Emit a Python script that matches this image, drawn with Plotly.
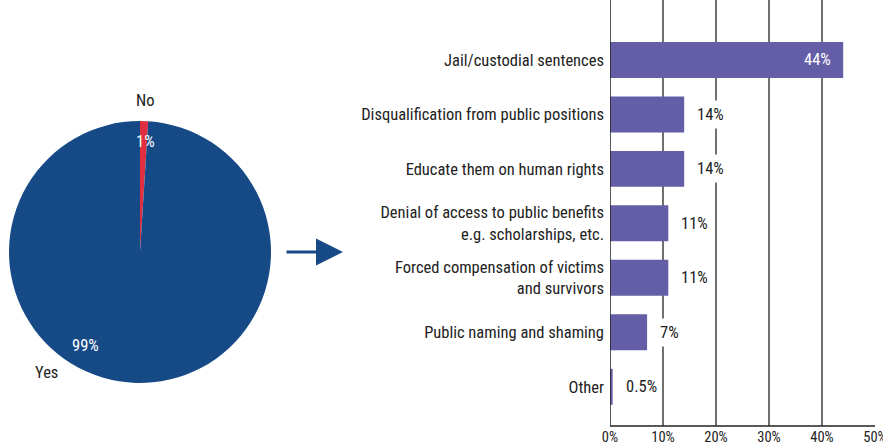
import plotly.graph_objects as go

# Pie: whether perpetrators should be punished
pie_labels = ["No", "Yes"]
pie_values = [1, 99]
pie_colors = ["#e0303f", "#154a86"]

# Bar: preferred type of punishment (% of respondents)
categories = [
    "Jail/custodial sentences",
    "Disqualification from public positions",
    "Educate them on human rights",
    "Denial of access to public benefits<br>e.g. scholarships, etc.",
    "Forced compensation of victims<br>and survivors",
    "Public naming and shaming",
    "Other",
]
shares = [44, 14, 14, 11, 11, 7, 0.5]
share_text = ["44%", "14%", "14%", "11%", "11%", "7%", "0.5%"]
x_ticks = [0, 10, 20, 30, 40, 50]
x_tick_text = ["0%", "10%", "20%", "30%", "40%", "50%"]

FONT = "Roboto Condensed, Liberation Sans Narrow, Roboto, sans-serif"
TXT = "#222222"
BAR = "#635ea6"
W, H = 883, 445

fig = go.Figure()

fig.add_trace(go.Pie(
    labels=pie_labels, values=pie_values, sort=False, direction="clockwise",
    rotation=0, marker=dict(colors=pie_colors, line=dict(width=0)),
    textinfo="none", hoverinfo="label+percent", showlegend=False,
    domain=dict(x=[9 / W, 271 / W], y=[1 - 383 / H, 1 - 121 / H]),
))

ypos = list(range(len(categories)))
fig.add_trace(go.Bar(
    x=shares, y=ypos, orientation="h", marker=dict(color=BAR, line=dict(width=0)),
    width=0.66, showlegend=False, hoverinfo="x+y",
))


def label(x, y, text, color=TXT, size=16.5, **kw):
    return dict(x=x, y=y, text=text, showarrow=False, xanchor=kw.pop("xanchor", "center"),
                yanchor="middle", font=dict(family=FONT, size=size, color=color), **kw)


annotations = []
# value labels on the bars
for i, (v, t) in enumerate(zip(shares, share_text)):
    if v > 30:
        annotations.append(label(v, i, t, color="white", xref="x", yref="y",
                                 xanchor="right", xshift=-10))
    else:
        annotations.append(label(v, i, t, xref="x", yref="y", xanchor="left", xshift=8,
                                 bgcolor="white", borderpad=4))

# pie labels
annotations += [
    label(145 / W, 1 - 101 / H, "No", xref="paper", yref="paper"),
    label(46 / W, 1 - 372 / H, "Yes", xref="paper", yref="paper"),
    label(145 / W, 1 - 141 / H, f"{pie_values[0]}%", color="white", xref="paper", yref="paper"),
    label(85 / W, 1 - 345 / H, f"{pie_values[1]}%", color="white", xref="paper", yref="paper"),
    # arrow linking the pie to the breakdown
    dict(x=343 / W, y=1 - 252 / H, ax=-58, ay=0, xref="paper", yref="paper",
         axref="pixel", ayref="pixel", text="", showarrow=True, arrowhead=2,
         arrowsize=1.8, arrowwidth=3, arrowcolor="#154a86", standoff=0, startstandoff=0),
]

fig.update_layout(
    width=W, height=H, margin=dict(l=0, r=0, t=0, b=0, autoexpand=False),
    paper_bgcolor="white", plot_bgcolor="white",
    font=dict(family=FONT, size=16.5, color=TXT),
    bargap=0.34,
    xaxis=dict(domain=[610 / W, 875 / W], range=[0, 50], tickvals=x_ticks,
               ticktext=x_tick_text, showgrid=True, gridcolor="#707070", gridwidth=1.5,
               zeroline=False, showline=False, ticks="", tickfont=dict(size=14.5),
               ticklabeloverflow="allow", automargin=False, fixedrange=True),
    yaxis=dict(domain=[1 - 426 / H, 1], range=[6.72, -1.1], tickvals=ypos,
               ticktext=categories, showgrid=False, zeroline=False, showline=False,
               ticks="", ticklabelstandoff=5, tickfont=dict(size=16.5), automargin=False,
               fixedrange=True),
    annotations=annotations,
    shapes=[
        dict(type="line", xref="x", yref="paper", x0=0, x1=0, y0=1 - 426 / H, y1=1,
             line=dict(color="#222222", width=1.5)),
        dict(type="line", xref="x", yref="paper", x0=0, x1=50, y0=1 - 426 / H,
             y1=1 - 426 / H, line=dict(color="#222222", width=1.5)),
    ],
)

fig.write_html("out.html")
